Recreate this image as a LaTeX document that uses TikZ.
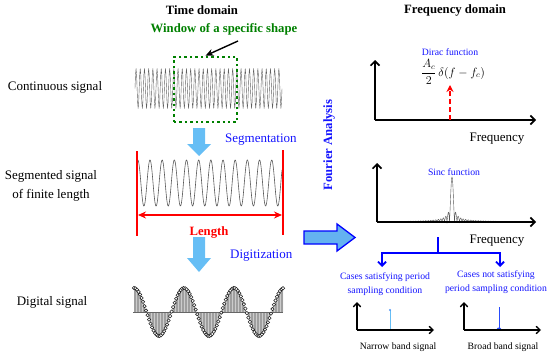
\documentclass[tikz,border=0pt]{standalone}
\usepackage{fontspec}
\setmainfont{Liberation Serif}
\usetikzlibrary{arrows.meta}
\definecolor{lblue}{RGB}{102,190,245}
\definecolor{fblue}{RGB}{100,178,240}
\definecolor{dgreen}{RGB}{0,128,0}
\definecolor{tblue}{RGB}{20,20,255}
\begin{document}
\begin{tikzpicture}[x=1pt,y=-1pt,
  lbl/.style={inner sep=0pt, font=\fontsize{13}{19}\selectfont, align=center},
  head/.style={inner sep=0pt, font=\fontsize{12.7}{15}\selectfont\bfseries},
  small/.style={inner sep=0pt, font=\fontsize{9.7}{13.5}\selectfont, align=center},
  axis/.style={line width=1.6pt, -{Straight Barb[length=4.5pt,width=9pt]}},
  saxis/.style={line width=1.3pt, -{Straight Barb[length=4pt,width=7.5pt]}},
  fatarrow/.style={fill=lblue, draw=none},
]
\useasboundingbox (0,0) rectangle (550,356);

% ---------- headings ----------
\node[head] (tdom) at (202,10) {Time domain};
\node[head] (fdom) at (455,10) {Frequency domain};
\node[head, text=dgreen] (win) at (224,29) {Window of a specific shape};

% ---------- left labels ----------
\node[lbl] (cont) at (55,87) {Continuous signal};
\node[lbl] (segl) at (51,186) {Segmented signal\\of finite length};
\node[lbl] (digl) at (52,302) {Digital signal};

% ---------- continuous signal ----------
\draw[gray!75!black, line width=0.4pt, line join=round]
  plot[domain=0:147, samples=281] ({135+\x},{88.5-20*sin(\x*85.714)});

% window box
\node[draw=dgreen, line width=2.6pt, dash pattern=on 2.4pt off 3pt,
      minimum width=63pt, minimum height=65pt, inner sep=0pt] (box) at (205.5,89.5) {};
\coordinate (wtail) at (238,41);
\draw[line width=1.4pt, -{Stealth[length=8pt,width=7pt]}] (wtail) -- (box.north);

% first fat arrow
\draw[fatarrow] (193,128)--(205,128)--(205,144)--(211,144)--(199,156)--(187,144)--(193,144)--cycle;
\node[lbl, text=tblue, anchor=west] (segm) at (225,140) {Segmentation};

% ---------- segmented signal ----------
\draw[gray!70!black, line width=0.6pt]
  plot[domain=138:282, samples=400] (\x,{183-23*cos((\x-150)*29.58)});
\draw[red, line width=1.2pt] (137,151) -- (137,236);
\draw[red, line width=1.2pt] (283,150) -- (283,235);
\draw[red, line width=1.3pt, {Stealth[length=8pt,width=7pt]}-{Stealth[length=8pt,width=7pt]}] (138,215) -- (282,215);
\node[head, text=red] (len) at (209,232) {Length};

% second fat arrow
\draw[fatarrow] (193,237)--(205,237)--(205,258)--(211,258)--(199,272)--(187,258)--(193,258)--cycle;
\node[lbl, text=tblue, anchor=west] (digi) at (230,256) {Digitization};

% ---------- digital signal ----------
\fill[gray!40] plot[domain=134:283, samples=150] (\x,{312-24*cos((\x-134)*7.2)}) -- (283,312) -- (134,312) -- cycle;
\foreach \t in {134,135.5,...,283}
  \draw[gray!75, line width=0.35pt] (\t,312) -- (\t,{312-24*cos((\t-134)*7.2)});
\draw[gray!80!black, line width=0.6pt] (133,312) -- (283,312);
\draw[gray!25!black, line width=0.55pt]
  plot[only marks, mark=*, mark size=1.7pt, mark options={fill=white}, domain=134:283, samples=100]
  (\x,{312-24*cos((\x-134)*7.2)});

% ---------- Fourier analysis ----------
\node[head, text=tblue, rotate=90] (fa) at (329,145) {Fourier Analysis};
\draw[fill=fblue, draw=blue, line width=1.3pt]
  (304,231)--(337,231)--(337,224)--(355,237.5)--(337,251)--(337,244)--(304,244)--cycle;

% ---------- Dirac spectrum ----------
\coordinate (o1) at (375,120);
\draw[axis] (o1) -- (375,60);
\draw[axis] (o1) -- (536,120);
\node[small, text=tblue] (dirac) at (450,52) {Dirac function};
\node[inner sep=0pt, font=\fontsize{12}{14}\selectfont] (form) at (453,72) {$\displaystyle\frac{A_c}{2}\,\delta(f-f_c)$};
\coordinate (dbase) at (450,120);
\draw[red, line width=1.5pt, dash pattern=on 5pt off 3pt, -{Stealth[length=7pt,width=7pt]}] (dbase) -- (450,85);
\node[lbl] (freq1) at (497,139) {Frequency};

% ---------- Sinc spectrum ----------
\coordinate (o2) at (377,222);
\draw[gray!65!black, line width=0.4pt]
  plot[domain=379:533, samples=900] (\x,{222-45*abs(sin(72*(\x-452)))/(1.25664*max(abs(\x-452),0.02))});
\draw[axis] (o2) -- (377,163);
\draw[axis] (o2) -- (536,222);
\node[small, text=tblue] (sinc) at (454,172) {Sinc function};
\node[lbl] (freq2) at (497,241) {Frequency};

% ---------- bracket ----------
\coordinate (brtop) at (438,237);
\coordinate (brmid) at (438,253);
\coordinate (brl) at (382,267);
\coordinate (brr) at (500,267);
\draw[blue, line width=1.8pt] (brtop) -- (brmid);
\draw[blue, line width=1.8pt, -{Straight Barb[length=4pt,width=8pt]}] (brmid) -| (brl);
\draw[blue, line width=1.8pt, -{Straight Barb[length=4pt,width=8pt]}] (brmid) -| (brr);
\node[small, text=tblue] (case1) at (385,284) {Cases satisfying period\\sampling condition};
\node[small, text=tblue] (case2) at (496,282) {Cases not satisfying\\period sampling condition};

% ---------- narrow / broad band ----------
\draw[lblue, line width=0.6pt] (390,330) -- (390,310);
\fill[lblue!80!blue] (390,310) circle (1.1pt);
\draw[blue!60!lblue, line width=1pt] (499,330) -- (499,307);
\fill[blue!60!lblue] (499,329) ellipse (2.2pt and 1.5pt);
\coordinate (o3) at (357,330);
\draw[saxis] (o3) -- (357,302);
\draw[saxis] (o3) -- (434,330);
\coordinate (o4) at (464,330);
\draw[saxis] (o4) -- (464,302);
\draw[saxis] (o4) -- (541,330);
\node[small] (nb) at (398,347) {Narrow band signal};
\node[small] (bb) at (503,347) {Broad band signal};
\end{tikzpicture}
\end{document}
